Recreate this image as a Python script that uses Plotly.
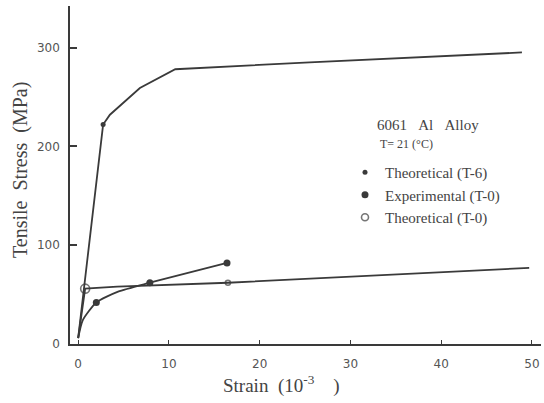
import plotly.graph_objects as go

# ---- data (strain in 1e-3, stress in MPa) ----
t6_strain = [0, 2.75, 3.5, 6.8, 10.7, 25.5, 48.9]
t6_stress = [6, 222, 232, 259, 278, 285, 295]
t6_mark_strain = [2.75]
t6_mark_stress = [222]

exp_strain = [0, 0.5, 2.0, 4.4, 7.9, 16.4]
exp_stress = [6, 24, 42, 53, 62, 82]
exp_mark_strain = [2.0, 7.9, 16.4]
exp_mark_stress = [42, 62, 82]

t0_strain = [0, 0.77, 4.3, 16.5, 49.7]
t0_stress = [6, 56, 58, 62, 77]
t0_mark_strain = [0.77, 16.5]
t0_mark_stress = [56, 62]

x_ticks = [0, 10, 20, 30, 40, 50]
y_ticks = [0, 100, 200, 300]

LINE = "#3a3a3a"
TXT = "#444444"
SERIF = "Liberation Serif, Times New Roman, serif"
SANS = "DejaVu Sans, Liberation Sans, sans-serif"

fig = go.Figure()

# curves (no legend)
fig.add_trace(go.Scatter(x=t6_strain, y=t6_stress, mode="lines",
                         line=dict(color=LINE, width=1.8), showlegend=False, hoverinfo="skip"))
fig.add_trace(go.Scatter(x=exp_strain, y=exp_stress, mode="lines",
                         line=dict(color=LINE, width=1.8, shape="spline", smoothing=0.6),
                         showlegend=False, hoverinfo="skip"))
fig.add_trace(go.Scatter(x=t0_strain, y=t0_stress, mode="lines",
                         line=dict(color=LINE, width=1.8), showlegend=False, hoverinfo="skip"))

# markers (legend)
fig.add_trace(go.Scatter(x=t6_mark_strain, y=t6_mark_stress, mode="markers",
                         name="Theoretical (T-6)",
                         marker=dict(symbol="circle", size=5, color=LINE)))
fig.add_trace(go.Scatter(x=exp_mark_strain, y=exp_mark_stress, mode="markers",
                         name="Experimental (T-0)",
                         marker=dict(symbol="circle", size=7, color=LINE)))
fig.add_trace(go.Scatter(x=t0_mark_strain, y=t0_mark_stress, mode="markers",
                         name="Theoretical (T-0)",
                         marker=dict(symbol="circle-open", size=[9, 5], color=LINE,
                                     line=dict(width=1.6, color=LINE))))

L, R, T, B = 70, 3, 6, 59
W, H = 544, 403
pw, ph = W - L - R, H - T - B


def px(x):
    return (x - L) / pw


def py(y):
    return (H - B - y) / ph


fig.update_layout(
    width=W, height=H,
    margin=dict(l=L, r=R, t=T, b=B, pad=0),
    paper_bgcolor="white", plot_bgcolor="white",
    font=dict(family=SERIF, color=TXT),
    xaxis=dict(range=[-0.9, 51], tickvals=x_ticks, ticktext=[str(v) for v in x_ticks],
               showgrid=False, zeroline=False, showline=True, linecolor=LINE, linewidth=1.5,
               ticks="inside", ticklen=4, tickcolor=LINE, tickwidth=1,
               tickfont=dict(family=SANS, size=12, color="#555555"), ticklabelstandoff=8),
    yaxis=dict(range=[0, 342], tickvals=y_ticks, ticktext=[str(v) for v in y_ticks],
               showgrid=False, zeroline=False, showline=True, linecolor=LINE, linewidth=1.5,
               ticks="inside", ticklen=7, tickcolor=LINE, tickwidth=1.5,
               tickfont=dict(family=SANS, size=12, color="#555555"), ticklabelstandoff=6),
    legend=dict(x=px(345), y=py(156), xanchor="left", yanchor="top",
                bgcolor="rgba(0,0,0,0)", font=dict(family=SERIF, size=15, color=TXT),
                itemwidth=30, tracegroupgap=2),
    showlegend=True,
)

fig.add_annotation(xref="paper", yref="paper", x=px(20), y=py(170),
                   xanchor="center", yanchor="middle",
                   text="Tensile&nbsp;&nbsp;Stress&nbsp;&nbsp;(MPa)", textangle=-90, showarrow=False,
                   font=dict(family=SERIF, size=20, color=TXT))
fig.add_annotation(xref="paper", yref="paper", x=px(281), y=py(384),
                   xanchor="center", yanchor="middle",
                   text="Strain&nbsp;&nbsp;(10<sup>-3</sup>&nbsp;&nbsp;&nbsp;&nbsp;)", showarrow=False,
                   font=dict(family=SERIF, size=19, color=TXT))
fig.add_annotation(xref="paper", yref="paper", x=px(375), y=py(125),
                   xanchor="left", yanchor="middle",
                   text="6061&nbsp;&nbsp;&nbsp;Al&nbsp;&nbsp;&nbsp;Alloy", showarrow=False,
                   font=dict(family=SERIF, size=15, color=TXT))
fig.add_annotation(xref="paper", yref="paper", x=px(378), y=py(144),
                   xanchor="left", yanchor="middle",
                   text="T= 21 (°C)", showarrow=False,
                   font=dict(family=SERIF, size=12, color=TXT))

fig.write_html("out.html")
